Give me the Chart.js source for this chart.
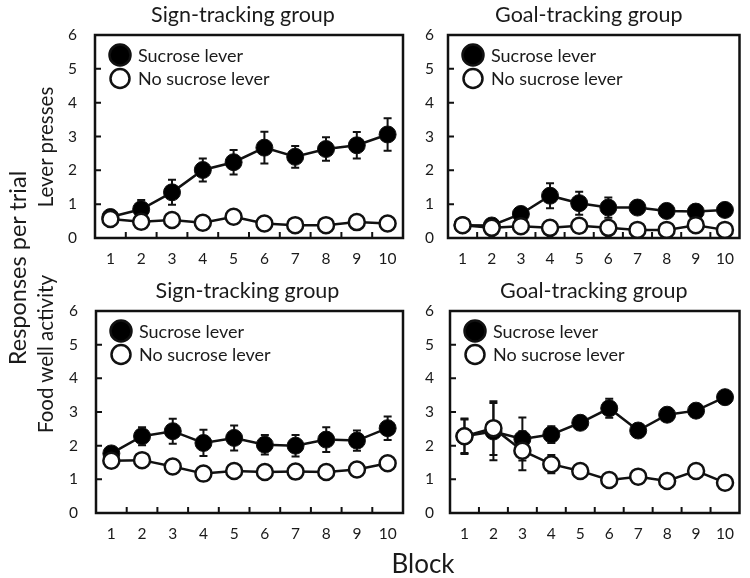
<!DOCTYPE html>
<html><head><meta charset="utf-8">
<script src="https://cdn.jsdelivr.net/npm/chart.js@4.4.0/dist/chart.umd.min.js"></script>
<style>
html,body{margin:0;padding:0;background:#fff;}
#wrap{position:relative;width:750px;height:578px;overflow:hidden;font-family:Lato,sans-serif;color:#1a1a1a;background:#fff;}
canvas{position:absolute;}
.lbl{position:absolute;white-space:nowrap;line-height:1;transform:translate(-50%,-50%);}
.rot{transform:translate(-50%,-50%) rotate(-90deg);}
</style></head><body>
<div id="wrap">
<canvas id="c1" width="420" height="280" style="left:0;top:0"></canvas>
<canvas id="c2" width="330" height="280" style="left:420px;top:0"></canvas>
<canvas id="c3" width="420" height="303" style="left:0;top:275px"></canvas>
<canvas id="c4" width="330" height="303" style="left:420px;top:275px"></canvas>
<div class="lbl rot" style="left:18px;top:268px;font-size:23.5px">Responses per trial</div>
<div class="lbl rot" style="left:45px;top:147px;font-size:20.5px">Lever presses</div>
<div class="lbl rot" style="left:45px;top:354px;font-size:20.5px">Food well activity</div>
<div class="lbl" style="left:423px;top:563px;font-size:26px">Block</div>
</div>
<script>
// ---- data ----
const blocks = ['1','2','3','4','5','6','7','8','9','10'];
const seriesNames = ['Sucrose lever','No sucrose lever'];
const titles = ['Sign-tracking group','Goal-tracking group','Sign-tracking group','Goal-tracking group'];

// Lever presses, sign-tracking
const leverST_suc    = [0.62, 0.85, 1.35, 2.01, 2.24, 2.67, 2.40, 2.63, 2.74, 3.06];
const leverST_sucErr = [0.10, 0.27, 0.37, 0.34, 0.36, 0.47, 0.32, 0.35, 0.39, 0.48];
const leverST_no     = [0.56, 0.48, 0.53, 0.45, 0.63, 0.43, 0.38, 0.38, 0.47, 0.43];
const leverST_noErr  = [0.08, 0.08, 0.08, 0.08, 0.08, 0.08, 0.06, 0.06, 0.08, 0.06];
// Lever presses, goal-tracking
const leverGT_suc    = [0.38, 0.37, 0.71, 1.25, 1.03, 0.90, 0.90, 0.80, 0.78, 0.83];
const leverGT_sucErr = [0.05, 0.06, 0.10, 0.37, 0.34, 0.30, 0.12, 0.10, 0.10, 0.10];
const leverGT_no     = [0.38, 0.30, 0.35, 0.30, 0.36, 0.30, 0.24, 0.24, 0.38, 0.24];
const leverGT_noErr  = [0.05, 0.05, 0.05, 0.05, 0.05, 0.05, 0.05, 0.05, 0.08, 0.05];
// Food well, sign-tracking
const foodST_suc     = [1.77, 2.28, 2.43, 2.08, 2.23, 2.03, 2.00, 2.18, 2.15, 2.52];
const foodST_sucErr  = [0.15, 0.27, 0.37, 0.39, 0.37, 0.29, 0.32, 0.37, 0.30, 0.35];
const foodST_no      = [1.55, 1.57, 1.38, 1.17, 1.25, 1.22, 1.23, 1.22, 1.29, 1.48];
const foodST_noErr   = [0.10, 0.12, 0.10, 0.10, 0.10, 0.10, 0.10, 0.10, 0.10, 0.12];
// Food well, goal-tracking
const foodGT_suc     = [2.28, 2.42, 2.20, 2.33, 2.68, 3.11, 2.45, 2.92, 3.04, 3.44];
const foodGT_sucErr  = [0.53, 0.85, 0.64, 0.25, 0.15, 0.28, 0.12, 0.12, 0.12, 0.18];
const foodGT_no      = [2.28, 2.52, 1.85, 1.45, 1.25, 0.98, 1.08, 0.95, 1.25, 0.90];
const foodGT_noErr   = [0.50, 0.80, 0.58, 0.27, 0.10, 0.10, 0.10, 0.10, 0.12, 0.10];
const yTicksMax = 6;

// ---- plugin: box, inward ticks, error bars, title, legend ----
const INK = '#111';
const panelPlugin = {
  id: 'panel',
  beforeDatasetsDraw(chart) {
    const ctx = chart.ctx, ys = chart.scales.y;
    ctx.save();
    ctx.strokeStyle = INK; ctx.lineWidth = 2;
    chart.data.datasets.forEach((ds, di) => {
      const meta = chart.getDatasetMeta(di);
      meta.data.forEach((pt, i) => {
        const v = ds.data[i], e = ds.errors[i];
        const yt = ys.getPixelForValue(v + e), yb = ys.getPixelForValue(Math.max(0, v - e));
        ctx.beginPath();
        ctx.moveTo(pt.x, yt); ctx.lineTo(pt.x, yb);
        ctx.moveTo(pt.x - 4, yt); ctx.lineTo(pt.x + 4, yt);
        ctx.moveTo(pt.x - 4, yb); ctx.lineTo(pt.x + 4, yb);
        ctx.stroke();
      });
    });
    ctx.restore();
  },
  afterDraw(chart, args, opts) {
    const ctx = chart.ctx, a = chart.chartArea, xs = chart.scales.x, ys = chart.scales.y;
    ctx.save();
    ctx.strokeStyle = INK;
    // inward ticks
    ctx.lineWidth = 2;
    ctx.beginPath();
    for (let v = 1; v < yTicksMax; v++) {
      const y = ys.getPixelForValue(v);
      ctx.moveTo(a.left, y); ctx.lineTo(a.left + 6, y);
    }
    for (let i = 0; i < blocks.length - 1; i++) {
      const x = (xs.getPixelForValue(i) + xs.getPixelForValue(i + 1)) / 2;
      ctx.moveTo(x, a.bottom); ctx.lineTo(x, a.bottom - 6);
    }
    ctx.stroke();
    // frame
    ctx.lineWidth = 2.5;
    ctx.strokeRect(a.left, a.top, a.right - a.left, a.bottom - a.top);
    // title
    ctx.fillStyle = '#1a1a1a';
    ctx.font = '21.5px Lato, sans-serif';
    ctx.textAlign = 'center'; ctx.textBaseline = 'alphabetic';
    ctx.fillText(opts.title, (a.left + a.right) / 2 + opts.titleShift, a.top - 13);
    // legend
    ctx.font = '18px Lato, sans-serif';
    ctx.textAlign = 'left'; ctx.textBaseline = 'middle';
    chart.data.datasets.forEach((ds, di) => {
      const cx = a.left + 25, cy = a.top + 20 + di * 23.5;
      ctx.beginPath();
      ctx.arc(cx, cy, ds.pointBackgroundColor === '#fff' ? 9.5 : 10.5, 0, Math.PI * 2);
      ctx.fillStyle = ds.pointBackgroundColor; ctx.fill();
      ctx.lineWidth = 2.5; ctx.stroke();
      ctx.fillStyle = '#1a1a1a';
      ctx.fillText(ds.label, a.left + 43, cy + 1);
    });
    ctx.restore();
  }
};

function makeChart(id, title, titleShift, suc, sucErr, no, noErr, pad, yW, yPad, xH) {
  new Chart(document.getElementById(id), {
    type: 'line',
    data: {
      labels: blocks,
      datasets: [
        { label: seriesNames[0], data: suc, errors: sucErr, order: 2,
          borderColor: INK, borderWidth: 2.5, tension: 0,
          pointRadius: 8.5, pointBackgroundColor: '#000', pointBorderColor: INK, pointBorderWidth: 1 },
        { label: seriesNames[1], data: no, errors: noErr, order: 1,
          borderColor: INK, borderWidth: 2.5, tension: 0,
          pointRadius: 8, pointBackgroundColor: '#fff', pointBorderColor: INK, pointBorderWidth: 2.5 }
      ]
    },
    options: {
      responsive: false, animation: false,
      layout: { padding: pad },
      plugins: { legend: { display: false }, tooltip: { enabled: false }, title: { display: false },
        panel: { title: title, titleShift: titleShift } },
      scales: {
        x: { type: 'category', offset: true,
          grid: { display: false, drawTicks: false }, border: { display: false },
          ticks: { font: { family: 'Lato, sans-serif', size: 15.5 }, color: '#1a1a1a', padding: 12, maxRotation: 0, autoSkip: false },
          afterFit(s) { s.height = xH; } },
        y: { min: 0, max: yTicksMax,
          grid: { display: false, drawTicks: false }, border: { display: false },
          ticks: { stepSize: 1, font: { family: 'Lato, sans-serif', size: 15.5 }, color: '#1a1a1a', padding: yPad },
          afterFit(s) { s.width = yW; } }
      }
    },
    plugins: [panelPlugin]
  });
}

makeChart('c1', titles[0], -6, leverST_suc, leverST_sucErr, leverST_no, leverST_noErr,
  { left: 0, top: 35, right: 17, bottom: 0 }, 95, 18, 42);
makeChart('c2', titles[1], -5, leverGT_suc, leverGT_sucErr, leverGT_no, leverGT_noErr,
  { left: 0, top: 35, right: 2, bottom: 0 }, 28, 14, 42);
makeChart('c3', titles[2], -2, foodST_suc, foodST_sucErr, foodST_no, foodST_noErr,
  { left: 0, top: 36, right: 17, bottom: 0 }, 96, 18, 65);
makeChart('c4', titles[3], -1, foodGT_suc, foodGT_sucErr, foodGT_no, foodGT_noErr,
  { left: 0, top: 36, right: 2, bottom: 0 }, 30, 16, 65);
</script>
</body></html>
